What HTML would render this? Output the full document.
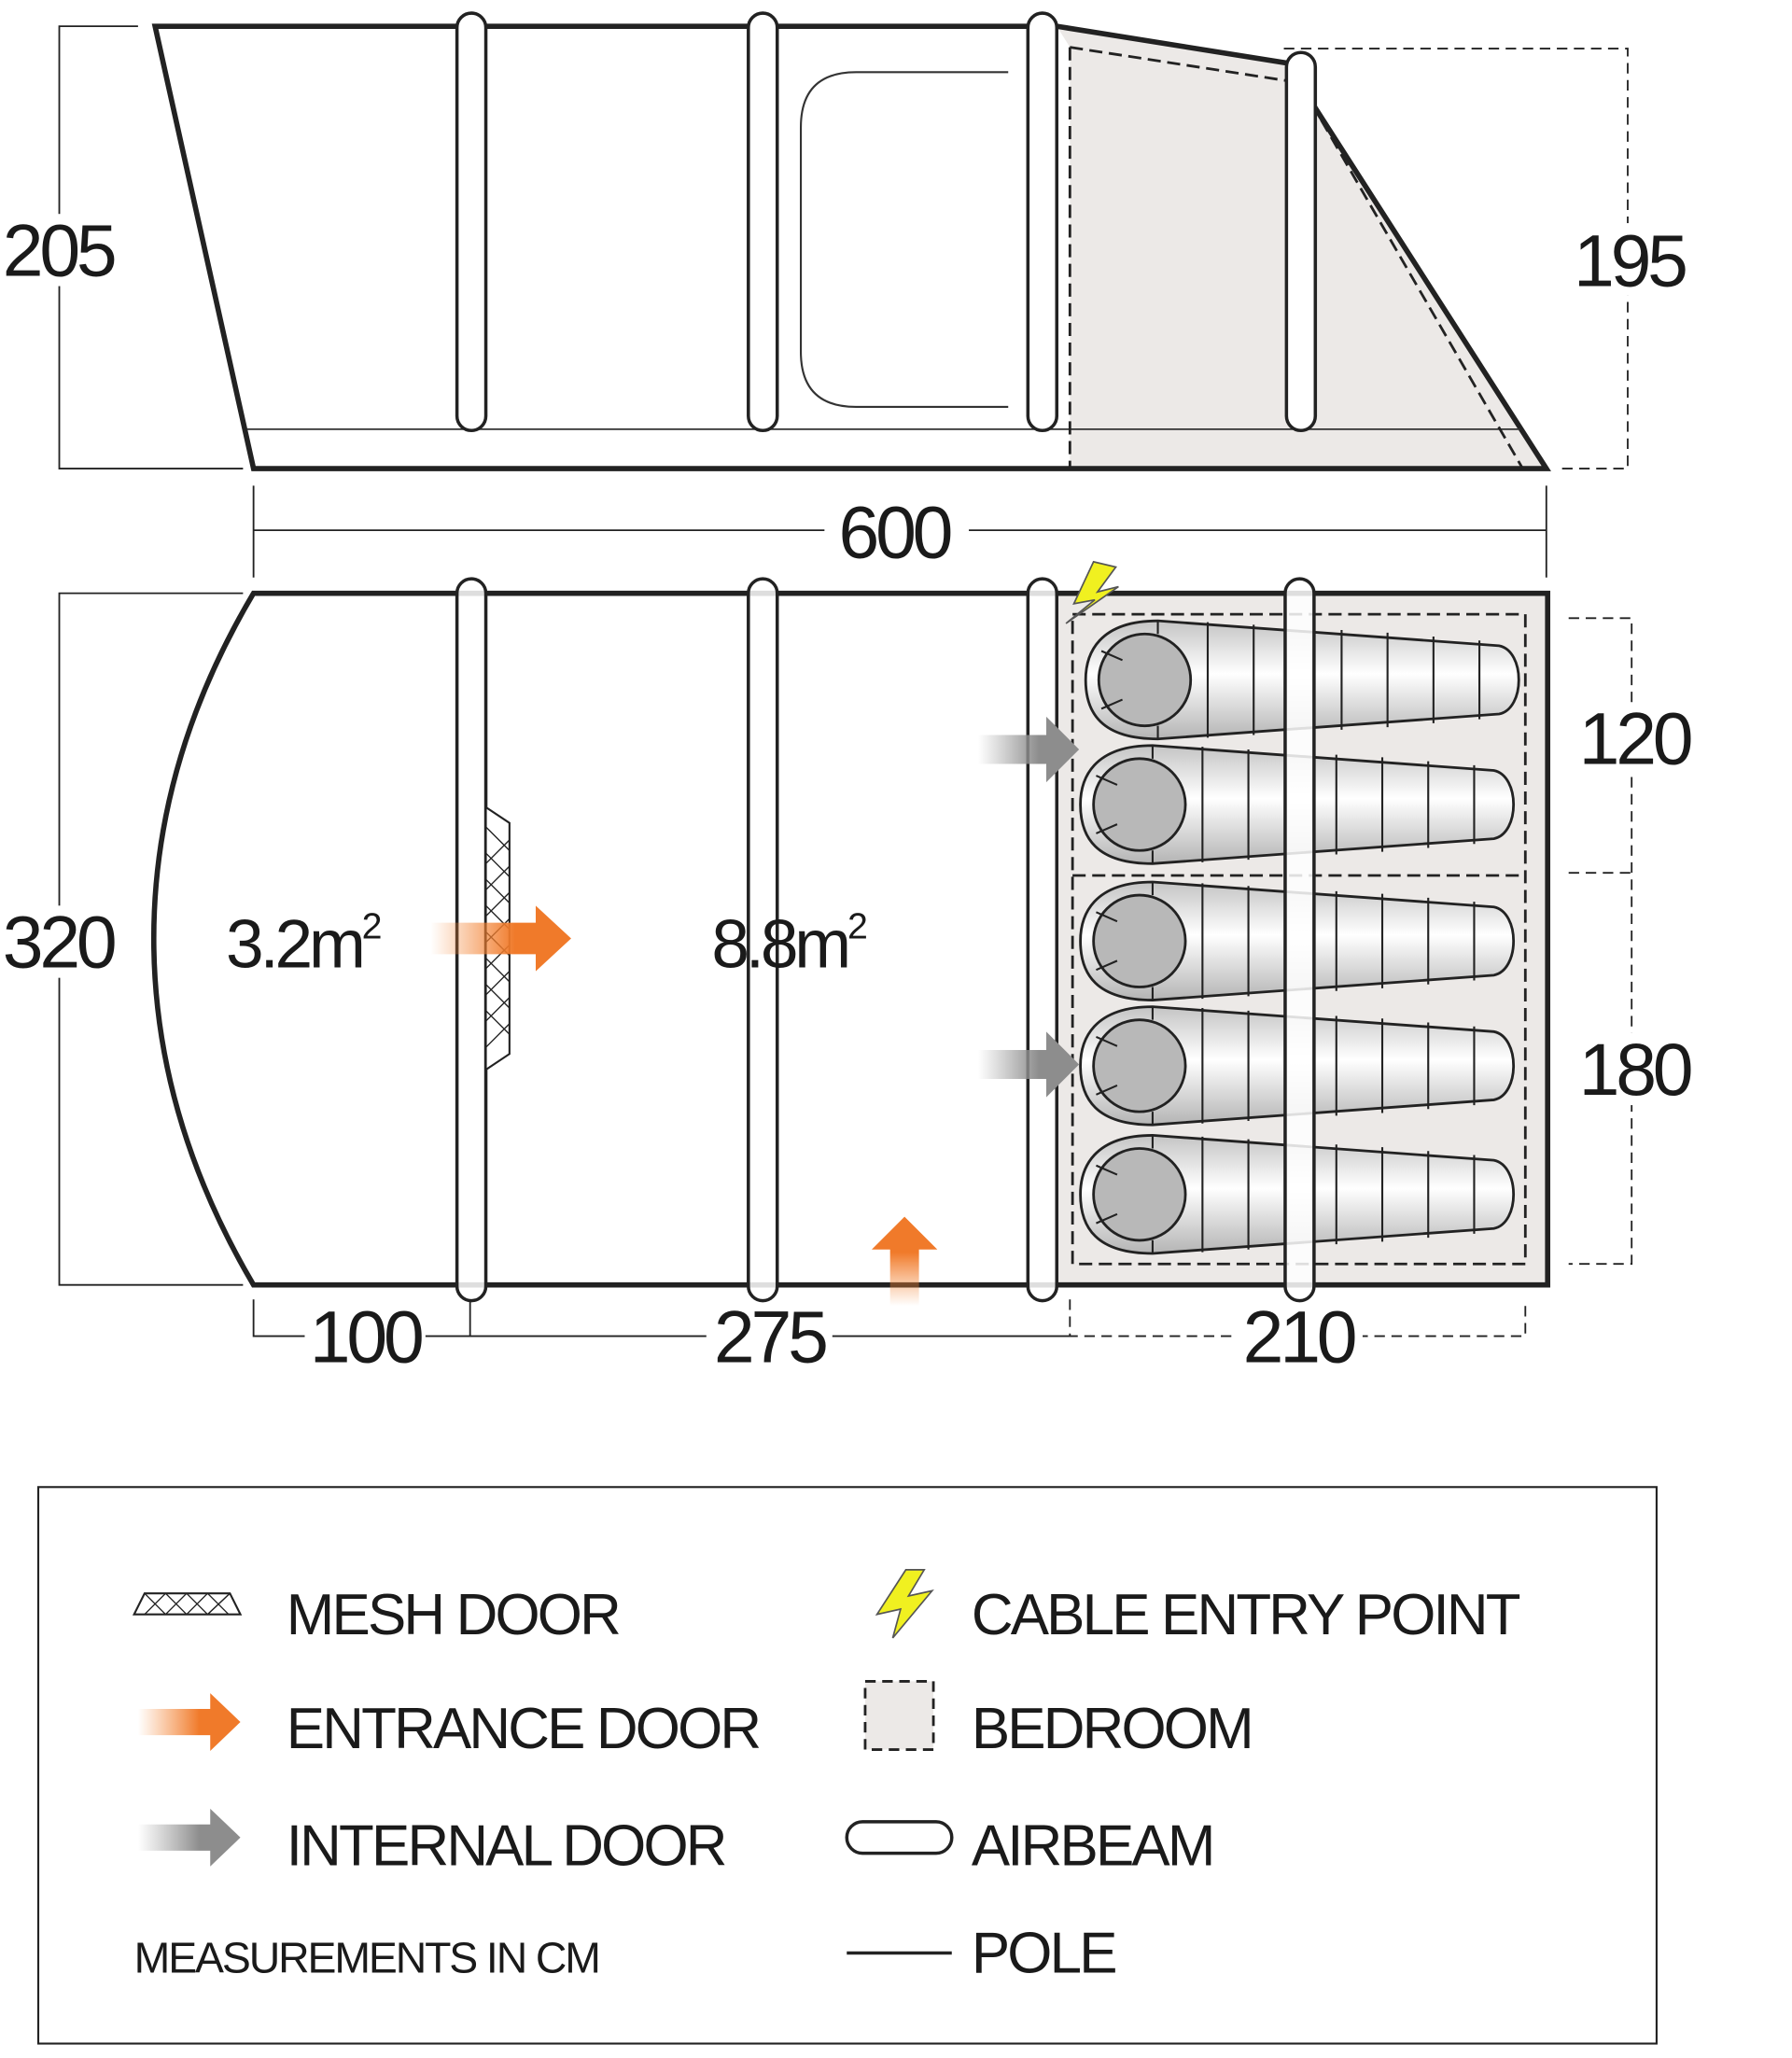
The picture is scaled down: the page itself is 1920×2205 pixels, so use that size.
<!DOCTYPE html>
<html><head><meta charset="utf-8"><style>
html,body{margin:0;padding:0;background:#fff}
svg{display:block}
text{font-family:"Liberation Sans",sans-serif;fill:#1a1a1a}
</style></head><body>
<svg width="1920" height="2205" viewBox="0 0 1365 1568" xmlns="http://www.w3.org/2000/svg">
<defs>
<linearGradient id="og" x1="0" x2="1"><stop offset="0" stop-color="#f58a3c" stop-opacity="0"/><stop offset="0.6" stop-color="#f07a2a"/></linearGradient>
<linearGradient id="gg" x1="0" x2="1"><stop offset="0" stop-color="#999" stop-opacity="0"/><stop offset="0.6" stop-color="#8d8d8d"/></linearGradient>
<linearGradient id="ogv" x1="0" y1="1" x2="0" y2="0"><stop offset="0" stop-color="#f58a3c" stop-opacity="0"/><stop offset="0.6" stop-color="#f07a2a"/></linearGradient>
<linearGradient id="bagg" x1="0" y1="0" x2="0" y2="1"><stop offset="0" stop-color="#c4c4c4"/><stop offset="0.45" stop-color="#fff"/><stop offset="1" stop-color="#b4b4b4"/></linearGradient>
<g id="bag">
<path d="M55,-45 C10,-45 0,-20 0,0 C0,25 12,45 55,45 L315,26 C335,22 335,-22 315,-26 Z" fill="url(#bagg)" stroke="#222" stroke-width="2"/>
<circle cx="45" cy="0" r="35" fill="#b8b8b8" stroke="#222" stroke-width="2"/>
<path d="M12,-22 L28,-15 M12,22 L28,15 M55,-45 V-35 M55,45 V35 M93,-44 V44 M128,-42 V42 M195,-38 V38 M230,-36 V36 M265,-33 V33 M300,-30 V30" stroke="#222" stroke-width="1.5" fill="none"/>
</g>
<g id="beam"><rect x="-11" y="-9" width="22" height="550" rx="11" fill="#fff" fill-opacity="0.85" stroke="#222" stroke-width="2.5"/></g>
</defs>

<!-- side view -->
<path d="M805,20 L980,48 L1178,357 L815,357 L815,36 Z" fill="#ece9e7"/>
<path d="M118,20 L805,20 L980,48 L1178,357 L193,357 Z" fill="none" stroke="#222" stroke-width="4"/>
<path d="M188,327 L1158,327" stroke="#333" stroke-width="1.2"/>
<path d="M815,36 L990,63 L1160,357 M815,36 V357" stroke="#222" stroke-width="2" stroke-dasharray="10,5" fill="none"/>
<path d="M768,55 L652,55 Q610,55 610,97 L610,268 Q610,310 652,310 L768,310" fill="none" stroke="#333" stroke-width="1.5"/>
<rect x="348" y="10" width="22" height="318" rx="11" fill="#fff" stroke="#222" stroke-width="2.5"/>
<rect x="570" y="10" width="22" height="318" rx="11" fill="#fff" stroke="#222" stroke-width="2.5"/>
<rect x="783" y="10" width="22" height="318" rx="11" fill="#fff" stroke="#222" stroke-width="2.5"/>
<rect x="980" y="40" width="22" height="288" rx="11" fill="#fff" stroke="#222" stroke-width="2.5"/>
<path d="M105,20 H45 V357 H185" stroke="#222" stroke-width="1.3" fill="none"/>
<rect x="0" y="163" width="90" height="55" fill="#fff"/>
<text x="44" y="210" font-size="56" text-anchor="middle" letter-spacing="-3">205</text>
<path d="M978,37 H1240 V357 H1185" stroke="#222" stroke-width="1.3" stroke-dasharray="8,5" fill="none"/>
<rect x="1195" y="170" width="90" height="55" fill="#fff"/>
<text x="1241" y="218" font-size="56" text-anchor="middle" letter-spacing="-3">195</text>
<path d="M193,370 V440 M1178,370 V440 M193,404 H1178" stroke="#222" stroke-width="1.3"/>
<rect x="628" y="378" width="110" height="55" fill="#fff"/>
<text x="681" y="425" font-size="56" text-anchor="middle" letter-spacing="-3">600</text>

<!-- plan view -->
<rect x="806" y="452" width="373" height="527" fill="#ece9e7"/>
<path d="M193,452 H1179 V979 H193 Q117,850 117,715 Q117,580 193,452 Z" fill="none" stroke="#222" stroke-width="4"/>
<rect x="817" y="468" width="345" height="495" fill="none" stroke="#222" stroke-width="2" stroke-dasharray="10,5"/>
<path d="M817,667 H1162" stroke="#222" stroke-width="2" stroke-dasharray="10,5"/>
<use href="#bag" x="827" y="518"/>
<use href="#bag" x="823" y="613"/>
<use href="#bag" x="823" y="717"/>
<use href="#bag" x="823" y="812"/>
<use href="#bag" x="823" y="910"/>
<use href="#beam" x="359" y="450"/>
<use href="#beam" x="581" y="450"/>
<use href="#beam" x="794" y="450"/>
<use href="#beam" x="990" y="450"/>
<!-- mesh door -->
<path d="M370,615 L388,627 L388,803 L370,815 Z" fill="#fff" stroke="#222" stroke-width="1.5"/>
<path d="M370,630 L388,648 M370,650 L388,668 M370,670 L388,688 M370,690 L388,708 M370,710 L388,728 M370,730 L388,748 M370,750 L388,768 M370,770 L388,788 M388,640 L370,658 M388,660 L370,678 M388,680 L370,698 M388,700 L370,718 M388,720 L370,738 M388,740 L370,758 M388,760 L370,778 M388,780 L370,798" stroke="#222" stroke-width="1"/>
<!-- arrows -->
<path d="M328,703 H408 V690 L435,715 L408,740 V727 H328 Z" fill="url(#og)"/>
<path d="M745,560 H797 V546 L822,571 L797,596 V582 H745 Z" fill="url(#gg)"/>
<path d="M745,800 H797 V786 L822,811 L797,836 V822 H745 Z" fill="url(#gg)"/>
<path d="M678,995 V952 H664 L689,927 L714,952 H700 V995 Z" fill="url(#ogv)"/>
<path d="M833,428 L818,460 L834,457 L812,475 L852,447 L836,451 L850,432 Z" fill="#f0f020" stroke="#555" stroke-width="1.2"/>
<text x="230" y="737" font-size="52" text-anchor="middle" letter-spacing="-3">3.2m<tspan font-size="28" dy="-22">2</tspan></text>
<text x="600" y="737" font-size="52" text-anchor="middle" letter-spacing="-3">8.8m<tspan font-size="28" dy="-22">2</tspan></text>
<path d="M185,452 H45 V979 H185" stroke="#222" stroke-width="1.3" fill="none"/>
<rect x="0" y="690" width="90" height="55" fill="#fff"/>
<text x="44" y="737" font-size="56" text-anchor="middle" letter-spacing="-3">320</text>
<path d="M1195,471 H1243 V963 H1195 M1195,665 H1243" stroke="#222" stroke-width="1.3" stroke-dasharray="8,5" fill="none"/>
<rect x="1195" y="535" width="100" height="55" fill="#fff"/>
<text x="1245" y="582" font-size="56" text-anchor="middle" letter-spacing="-3">120</text>
<rect x="1195" y="787" width="100" height="55" fill="#fff"/>
<text x="1245" y="834" font-size="56" text-anchor="middle" letter-spacing="-3">180</text>
<path d="M193,990 V1018 H815 M358,990 V1018" stroke="#222" stroke-width="1.3" fill="none"/>
<path d="M815,990 V1018 H1162 V990" stroke="#222" stroke-width="1.3" stroke-dasharray="8,5" fill="none"/>
<rect x="232" y="995" width="92" height="50" fill="#fff"/>
<text x="278" y="1038" font-size="56" text-anchor="middle" letter-spacing="-3">100</text>
<rect x="538" y="995" width="96" height="50" fill="#fff"/>
<text x="586" y="1038" font-size="56" text-anchor="middle" letter-spacing="-3">275</text>
<rect x="940" y="995" width="98" height="50" fill="#fff"/>
<text x="989" y="1038" font-size="56" text-anchor="middle" letter-spacing="-3">210</text>

<!-- legend -->
<rect x="29" y="1133" width="1233" height="424" fill="none" stroke="#222" stroke-width="1.5"/>
<path d="M110,1214 H175 L183,1230 H102 Z" fill="#fff" stroke="#222" stroke-width="1.5"/>
<path d="M110,1214 L126,1230 M126,1214 L142,1230 M142,1214 L158,1230 M158,1214 L174,1230 M110,1230 L126,1214 M126,1230 L142,1214 M142,1230 L158,1214 M158,1230 L175,1214" stroke="#222" stroke-width="1"/>
<text x="218" y="1245" font-size="44" letter-spacing="-2">MESH DOOR</text>
<path d="M105,1302 H160 V1290 L183,1312 L160,1334 V1322 H105 Z" fill="url(#og)"/>
<text x="218" y="1332" font-size="44" letter-spacing="-2">ENTRANCE DOOR</text>
<path d="M105,1390 H160 V1378 L183,1400 L160,1422 V1410 H105 Z" fill="url(#gg)"/>
<text x="218" y="1421" font-size="44" letter-spacing="-2">INTERNAL DOOR</text>
<text x="102" y="1503" font-size="33" letter-spacing="-1.5">MEASUREMENTS IN CM</text>
<path d="M690,1196 L668,1230 L686,1226 L680,1248 L710,1212 L692,1216 L704,1196 Z" fill="#f0f020" stroke="#555" stroke-width="1.2"/>
<text x="740" y="1245" font-size="44" letter-spacing="-2">CABLE ENTRY POINT</text>
<rect x="659" y="1281" width="52" height="52" fill="#ece9e7" stroke="#222" stroke-width="2" stroke-dasharray="8,5"/>
<text x="740" y="1332" font-size="44" letter-spacing="-2">BEDROOM</text>
<rect x="645" y="1388" width="80" height="24" rx="12" fill="#fff" stroke="#222" stroke-width="2.5"/>
<text x="740" y="1421" font-size="44" letter-spacing="-2">AIRBEAM</text>
<path d="M645,1488 H725" stroke="#222" stroke-width="2.5"/>
<text x="740" y="1503" font-size="44" letter-spacing="-2">POLE</text>
</svg>
</body></html>
